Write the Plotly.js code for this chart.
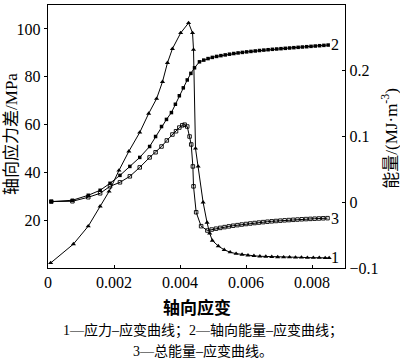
<!DOCTYPE html>
<html><head><meta charset="utf-8">
<script src="https://cdn.plot.ly/plotly-3.0.1.min.js"></script>
<style>html,body{margin:0;padding:0;background:#fff}#chart{width:400px;height:363px}</style>
</head><body><div id="chart"></div>
<script>
// Curve 1: stress–strain (left axis, MPa)
const stressStrain = [0.00008,0.00077,0.00122,0.00158,0.00185,0.00215,0.00245,0.00278,0.00305,0.00329,0.00347,0.00362,0.00377,0.00402,0.00426,0.00438,0.00441,0.00447,0.00455,0.00470,0.00482,0.00490,0.00498,0.00516,0.00534,0.00552,0.00570,0.00588,0.00606,0.00624,0.00642,0.00660,0.00678,0.00696,0.00714,0.00732,0.00750,0.00768,0.00786,0.00804,0.00822,0.00840,0.00852];
const stressValues = [2.1,10,17.5,25.8,32,40.8,48.8,56.7,64.6,70.8,77.9,85.8,91.7,98.3,102.5,98.3,91.3,50,42.5,27.5,19,14.5,11.5,9.2,7.6,6.6,6.0,5.6,5.3,5.1,4.9,4.8,4.7,4.6,4.5,4.5,4.4,4.4,4.3,4.3,4.3,4.2,4.2];

// Curve 2: axial energy–strain (right axis, MJ/m3)
const axialStrain = [0.0001,0.00074,0.00122,0.00158,0.00188,0.00218,0.00248,0.00278,0.00308,0.00326,0.00344,0.00359,0.00374,0.00386,0.00398,0.0041,0.00422,0.00433,0.00444,0.00459,0.00472,0.00485,0.00498,0.00511,0.00524,0.00537,0.00550,0.00563,0.00576,0.00589,0.00602,0.00615,0.00628,0.00641,0.00654,0.00667,0.00680,0.00693,0.00706,0.00719,0.00732,0.00745,0.00758,0.00771,0.00784,0.00797,0.00810,0.00823,0.00836,0.00849];
const axialEnergy = [0.001,0.003,0.0106,0.0182,0.0288,0.0409,0.0545,0.0682,0.0848,0.100,0.1152,0.126,0.1364,0.149,0.162,0.174,0.186,0.196,0.2045,0.2136,0.2162,0.2185,0.2203,0.2218,0.2230,0.2241,0.2252,0.2262,0.2271,0.2279,0.2287,0.2294,0.2301,0.2308,0.2314,0.2320,0.2326,0.2331,0.2336,0.2341,0.2346,0.2351,0.2356,0.2361,0.2366,0.2371,0.2376,0.2381,0.2386,0.2391];

// Curve 3: total energy–strain (right axis, MJ/m3)
const totalStrain = [0.0001,0.00074,0.00122,0.00158,0.00188,0.00218,0.00248,0.00278,0.00308,0.00326,0.00344,0.0036,0.00377,0.00388,0.00398,0.00407,0.00414,0.00422,0.00429,0.00434,0.00439,0.00441,0.00449,0.00464,0.00483,0.00496,0.00509,0.00522,0.00535,0.00548,0.00561,0.00574,0.00587,0.00600,0.00613,0.00626,0.00639,0.00652,0.00665,0.00678,0.00691,0.00704,0.00717,0.00730,0.00743,0.00756,0.00769,0.00782,0.00795,0.00808,0.00821,0.00834,0.00847];
const totalEnergy = [0.001,0.0015,0.0076,0.0136,0.0242,0.0303,0.0394,0.053,0.0682,0.076,0.0848,0.094,0.103,0.108,0.1136,0.117,0.118,0.1152,0.100,0.0879,0.0545,0.0242,-0.0152,-0.0364,-0.0430,-0.0415,-0.0402,-0.0390,-0.0378,-0.0367,-0.0357,-0.0348,-0.0339,-0.0331,-0.0323,-0.0316,-0.0309,-0.0302,-0.0296,-0.0290,-0.0285,-0.0280,-0.0275,-0.0271,-0.0267,-0.0263,-0.0259,-0.0256,-0.0253,-0.0250,-0.0247,-0.0244,-0.0242];

const xTicks = [0,0.002,0.004,0.006,0.008];
const xTickText = ['0','0.002','0.004','0.006','0.008'];
const yTicks = [20,40,60,80,100];
const y2Ticks = [-0.1,0,0.1,0.2,0.3];
const y2TickText = ['−0.1','0','0.1','0.2','0.3'];

const xTitle = '轴向应变';
const yTitle = '轴向应力差/MPa';
const y2Title = '能量/(MJ·m<sup>-3</sup>)';
const caption1 = '1—应力–应变曲线；2—轴向能量–应变曲线；';
const caption2 = '3—总能量–应变曲线。';

const serif = 'Liberation Serif, Noto Sans CJK SC, serif';

const traces = [
  {x: stressStrain, y: stressValues, yaxis: 'y', mode: 'lines+markers', name: '1',
   line: {color: '#000', width: 1}, marker: {symbol: 'triangle-up', size: 4.5, color: '#000'}},
  {x: axialStrain, y: axialEnergy, yaxis: 'y2', mode: 'lines+markers', name: '2',
   line: {color: '#000', width: 1}, marker: {symbol: 'square', size: 3.5, color: '#000'}},
  {x: totalStrain, y: totalEnergy, yaxis: 'y2', mode: 'lines+markers', name: '3',
   line: {color: '#000', width: 1}, marker: {symbol: 'square-open', size: 3.5, color: '#000', line: {width: 0.9, color: '#000'}}}
];

const axCommon = {showgrid: false, zeroline: false, showline: true, linecolor: '#000', linewidth: 1.2,
  ticklen: 3, tickcolor: '#000', tickwidth: 1, tickfont: {family: serif, size: 16, color: '#000'}};

const layout = {
  width: 400, height: 363,
  margin: {l: 48, r: 55, t: 5, b: 95},
  paper_bgcolor: '#fff', plot_bgcolor: '#fff',
  showlegend: false, hovermode: false,
  xaxis: Object.assign({}, axCommon, {range: [0, 0.009], tickvals: xTicks, ticktext: xTickText, ticks: 'inside', mirror: true}),
  yaxis: Object.assign({}, axCommon, {range: [0, 110], tickvals: yTicks, ticks: 'outside'}),
  yaxis2: Object.assign({}, axCommon, {range: [-0.1, 0.3], tickvals: y2Ticks, ticktext: y2TickText, ticks: 'inside', overlaying: 'y', side: 'right'}),
  annotations: [
    {text: xTitle, xref: 'paper', yref: 'paper', x: 0.502, y: -0.152, xanchor: 'center', yanchor: 'middle', showarrow: false, font: {family: serif, size: 17, color: '#000', weight: 'bold'}},
    {text: yTitle, xref: 'paper', yref: 'paper', x: -0.121, y: 0.51, xanchor: 'center', yanchor: 'middle', textangle: -90, showarrow: false, font: {family: serif, size: 17, color: '#000'}},
    {text: y2Title, xref: 'paper', yref: 'paper', x: 1.15, y: 0.494, xanchor: 'center', yanchor: 'middle', textangle: -90, showarrow: false, font: {family: serif, size: 17, color: '#000'}},
    {text: caption1, xref: 'paper', yref: 'paper', x: 0.522, y: -0.2395, xanchor: 'center', yanchor: 'middle', showarrow: false, font: {family: serif, size: 14, color: '#000'}},
    {text: caption2, xref: 'paper', yref: 'paper', x: 0.522, y: -0.3156, xanchor: 'center', yanchor: 'middle', showarrow: false, font: {family: serif, size: 14, color: '#000'}},
    {text: '2', xref: 'x', yref: 'y2', x: 0.00871, y: 0.24, xanchor: 'center', yanchor: 'middle', showarrow: false, font: {family: serif, size: 16, color: '#000'}},
    {text: '3', xref: 'x', yref: 'y2', x: 0.00871, y: -0.024, xanchor: 'center', yanchor: 'middle', showarrow: false, font: {family: serif, size: 16, color: '#000'}},
    {text: '1', xref: 'x', yref: 'y', x: 0.00871, y: 4.5, xanchor: 'center', yanchor: 'middle', showarrow: false, font: {family: serif, size: 16, color: '#000'}}
  ]
};

Plotly.newPlot('chart', traces, layout, {staticPlot: true, displayModeBar: false});
</script>
</body></html>
